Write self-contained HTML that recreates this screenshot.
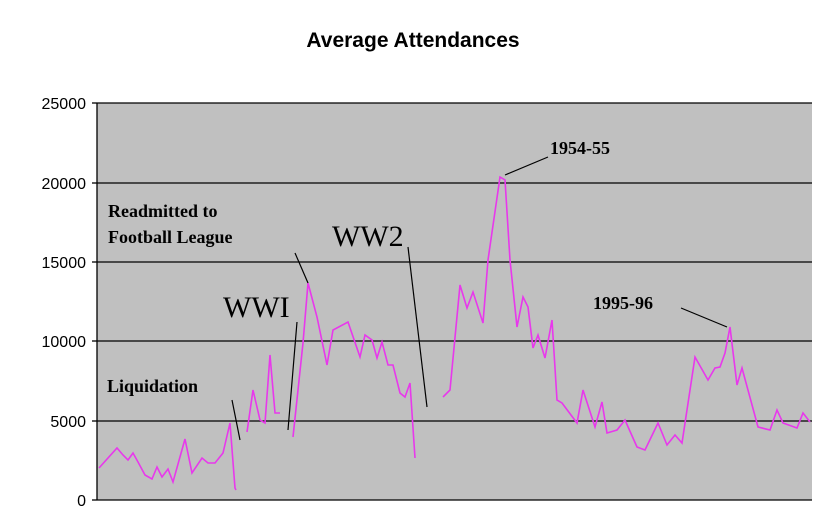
<!DOCTYPE html>
<html><head><style>body{margin:0;background:#fff}</style></head><body>
<svg width="822" height="512" xmlns="http://www.w3.org/2000/svg" font-family="Liberation Sans, sans-serif">
<rect width="822" height="512" fill="#fff"/>
<text x="413" y="47" font-size="21" font-weight="bold" text-anchor="middle">Average Attendances</text>
<rect x="97" y="103" width="715" height="397" fill="#c0c0c0"/>
<g stroke="#000" stroke-width="1.3">
<line x1="97" y1="103" x2="812" y2="103"/><line x1="97" y1="183" x2="812" y2="183"/>
<line x1="97" y1="262" x2="812" y2="262"/><line x1="97" y1="341" x2="812" y2="341"/>
<line x1="97" y1="421" x2="812" y2="421"/>
<line x1="97" y1="103" x2="97" y2="500"/><line x1="97" y1="500" x2="812" y2="500"/>
<line x1="92" y1="103" x2="97" y2="103"/><line x1="92" y1="183" x2="97" y2="183"/><line x1="92" y1="262" x2="97" y2="262"/><line x1="92" y1="341" x2="97" y2="341"/><line x1="92" y1="421" x2="97" y2="421"/><line x1="92" y1="500" x2="97" y2="500"/>
</g>
<g font-size="16" text-anchor="end">
<text x="86" y="109">25000</text><text x="86" y="189">20000</text><text x="86" y="268">15000</text><text x="86" y="347">10000</text><text x="86" y="427">5000</text><text x="86" y="506">0</text>
</g>
<g fill="none" stroke="#e838ec" stroke-width="1.6">
<polyline points="99,468 117,448 123,455 128,460 133,453 138,462 145,475 152,479 157,467 162,477 168,469 173,482 185,439 192,473 202,458 208,463 215,463 223,453 230,423 235,488 236,490"/>
<polyline points="247,432 253,390 260,420 265,423 270,355 275,413 280,413"/>
<polyline points="293,437 303,343 308,283 317,317 327,365 333,330 348,322 360,357 365,335 372,340 377,358 382,342 388,365 393,365 400,393 405,397 410,383 415,458"/>
<polyline points="443,397 450,390 460,285 467,308 473,292 483,323 488,260 500,177 505,180 510,260 517,327 523,297 528,307 533,348 538,335 545,358 552,320 557,400 562,403 577,423 583,390 595,427 602,402 607,433 617,430 625,420 637,447 645,450 658,423 667,445 675,435 682,443 695,357 708,380 715,368 720,367 725,353 730,327 737,385 742,368 758,427 770,430 777,410 783,423 797,428 803,413 810,422"/>
</g>
<g stroke="#000" stroke-width="1.2">
<line x1="548" y1="157" x2="505" y2="175"/><line x1="295" y1="253" x2="308" y2="283"/>
<line x1="408" y1="247" x2="427" y2="407"/><line x1="681" y1="308" x2="727" y2="327"/>
<line x1="297" y1="322" x2="288" y2="430"/><line x1="232" y1="400" x2="240" y2="440"/>
</g>
<g font-family="Liberation Serif, serif" font-weight="bold" font-size="18">
<text x="550" y="154">1954-55</text>
<text x="108" y="217">Readmitted to</text><text x="108" y="243">Football League</text>
<text x="593" y="309">1995-96</text>
<text x="107" y="392">Liquidation</text>
</g>
<g font-family="Liberation Serif, serif" font-size="30">
<text x="332" y="246">WW2</text>
<text x="223" y="317">WWI</text>
</g>
</svg>
</body></html>
